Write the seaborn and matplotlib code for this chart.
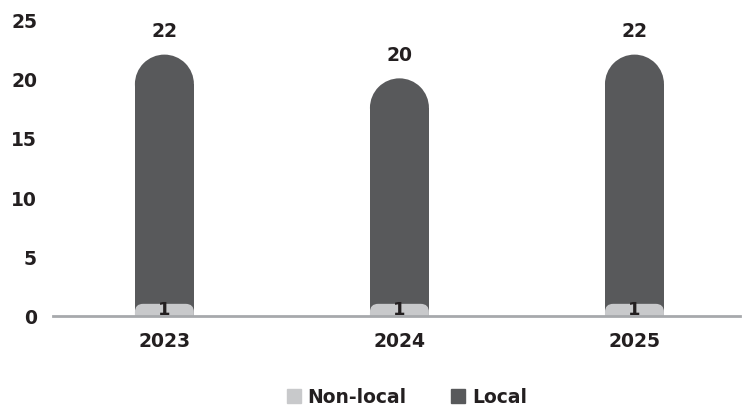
import matplotlib
matplotlib.use("Agg")
import matplotlib.pyplot as plt
import seaborn as sns
import pandas as pd
from matplotlib.patches import Ellipse, FancyBboxPatch, Patch

years = ["2023", "2024", "2025"]
local = [22, 20, 22]
non_local = [1, 1, 1]

dark = "#58595b"
light = "#c8c9cb"
text_col = "#231f20"

sns.set_theme(style="white")
plt.rcParams["font.family"] = ["DejaVu Sans"]
plt.rcParams["font.weight"] = "bold"
fsize = 13.5

df = pd.DataFrame({"year": years, "Local": local, "Non-local": non_local})

fig = plt.figure(figsize=(7.49, 4.06), dpi=100)
ax = fig.add_axes([53 / 749, 1 - 316.7 / 406, (740 - 53) / 749, (316.7 - 20) / 406])

bar_w = 0.251
sns.barplot(data=df, x="year", y="Local", color=dark, width=bar_w, ax=ax,
            saturation=1, errorbar=None, linewidth=0)
n_local = len(ax.patches)
sns.barplot(data=df, x="year", y="Non-local", color=light, width=bar_w, ax=ax,
            saturation=1, errorbar=None, linewidth=0)

ax.set_xlim(-0.474, 2.449)
ax.set_ylim(0, 25)
ax.set_yticks([0, 5, 10, 15, 20, 25])

# pixel scale of data units, to keep caps round
fig.canvas.draw()
p0 = ax.transData.transform((0, 0))
p1 = ax.transData.transform((1, 1))
aspect = (p1[0] - p0[0]) / (p1[1] - p0[1])

bars = list(ax.patches)
for i, b in enumerate(bars):
    x, w, h = b.get_x(), b.get_width(), b.get_height()
    if i < n_local:
        ry = (w / 2) * aspect
        b.set_height(h - ry)
        ax.add_patch(Ellipse((x + w / 2, h - ry), w, 2 * ry, facecolor=dark,
                             edgecolor="none", lw=0, zorder=b.get_zorder()))
        ax.text(x + w / 2, h + 1.2, f"{h:g}", ha="center", va="bottom",
                fontsize=fsize, fontweight="bold", color=text_col)
    else:
        b.set_visible(False)
        r = 0.035
        fb = FancyBboxPatch((x, -1), w, h + 1, boxstyle=f"round,pad=0,rounding_size={r}",
                            mutation_aspect=aspect, facecolor=light, edgecolor="none",
                            lw=0, zorder=3)
        ax.add_patch(fb)
        ax.text(x + w / 2, h * 0.6, f"{h:g}", ha="center", va="center",
                fontsize=fsize - 0.5, fontweight="bold", color=text_col, zorder=4)

ax.set_xlabel("")
ax.set_ylabel("")
sns.despine(ax=ax, left=True)
ax.spines["bottom"].set_color("#a7a9ac")
ax.spines["bottom"].set_linewidth(2)
ax.spines["bottom"].set_zorder(5)
ax.tick_params(axis="both", length=0, labelsize=fsize, labelcolor=text_col)
ax.tick_params(axis="x", pad=11)
ax.tick_params(axis="y", pad=11.5)
for t in ax.get_xticklabels() + ax.get_yticklabels():
    t.set_fontweight("bold")

handles = [Patch(color=light, label="Non-local"), Patch(color=dark, label="Local")]
fig.legend(handles=handles, loc="lower center", bbox_to_anchor=(0.543, -0.045), ncol=2,
           frameon=False, handlelength=0.75, handleheight=0.75, handletextpad=0.35,
           columnspacing=2.4, prop={"size": fsize, "weight": "bold"}, labelcolor=text_col)

fig.savefig("out.png", dpi=100)
